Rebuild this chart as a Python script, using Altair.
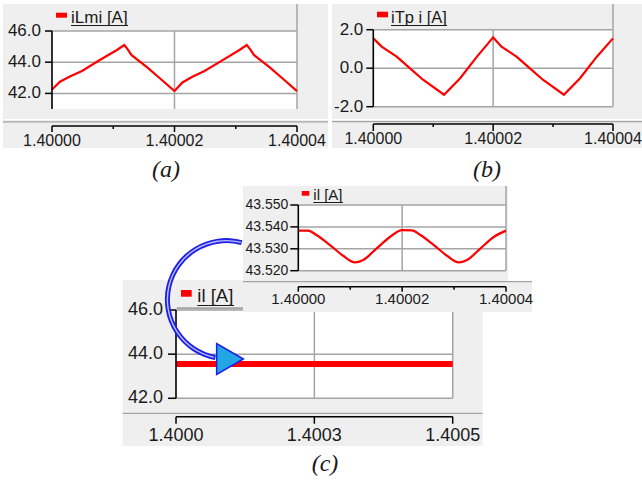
import altair as alt
import pandas as pd

# ---------------- data (time offsets in microseconds after 1.4 s) ----------------
T_A = [0, 1.3, 3, 4.9, 7.8, 10.6, 11.8, 12.3, 13, 15.5, 17.6, 20, 21.3, 23, 24.9, 27.8, 30.6, 31.8, 32.3, 33, 35.5, 37.6, 40]
V_A = [42.25, 42.75, 43.1, 43.44, 44.14, 44.78, 45.1, 44.85, 44.45, 43.68, 42.97, 42.15, 42.7, 43.08, 43.44, 44.12, 44.78, 45.1, 44.85, 44.45, 43.68, 42.97, 42.15]

T_B = [0, 1.4, 3.9, 5.8, 8.3, 11.8, 14.5, 17.3, 20, 21.4, 23.9, 25.8, 28.3, 31.8, 34.5, 37.3, 40]
V_B = [1.55, 1.12, 0.6, 0.08, -0.6, -1.38, -0.52, 0.6, 1.6, 1.12, 0.6, 0.08, -0.6, -1.38, -0.52, 0.6, 1.55]

T_INSET = [0, 1.9, 3.5, 6.1, 8.7, 10.9, 12.5, 15.1, 17.7, 20, 21.9, 23.5, 26.1, 28.7, 30.9, 32.5, 35.1, 37.7, 40]
V_INSET = [43.5383, 43.5383, 43.5363, 43.5317, 43.5267, 43.5238, 43.5249, 43.5302, 43.5355, 43.5385,
           43.5384, 43.5363, 43.5317, 43.5267, 43.5238, 43.5249, 43.5302, 43.5355, 43.5383]

T_C = [0, 100, 200, 300, 400, 500]
V_C = [43.55, 43.55, 43.55, 43.55, 43.55, 43.55]

T0 = 1.4
X_TICKS_AB = [1.4, 1.40002, 1.40004]
X_LABELS_AB = ["1.40000", "1.40002", "1.40004"]
X_MINOR_AB = [1.40001, 1.40003]
Y_TICKS_A = [42.0, 44.0, 46.0]
Y_LABELS_A = ["42.0", "44.0", "46.0"]
Y_TICKS_B = [-2.0, 0.0, 2.0]
Y_LABELS_B = ["-2.0", "0.0", "2.0"]
Y_TICKS_INSET = [43.52, 43.53, 43.54, 43.55]
Y_LABELS_INSET = ["43.520", "43.530", "43.540", "43.550"]
X_TICKS_C = [1.4, 1.40025, 1.4005]
X_LABELS_C = ["1.4000", "1.4003", "1.4005"]
Y_TICKS_C = [42.0, 44.0, 46.0]
Y_LABELS_C = ["42.0", "44.0", "46.0"]

LEGEND_A = "iLmi [A]"
LEGEND_B = "iTp i [A]"
LEGEND_INSET = "il [A]"
LEGEND_C = "il [A]"
CAPTIONS = ["(a)", "(b)", "(c)"]

# ---------------- style ----------------
W, H = 642, 483
ONE = pd.DataFrame({"k": [0]})
SANS = "Liberation Sans"
SERIF = "Liberation Serif"
BG = "#efefef"
GRID = "#a4a4a4"
RED = "#ff0000"
INK = "#1a1a1a"


def box(x1, x2, y1, y2, color):
    return alt.Chart(ONE).mark_rect(color=color).encode(
        x=alt.value(x1), x2=alt.value(x2), y=alt.value(y1), y2=alt.value(y2))


def hline(x1, x2, y, color, w):
    return alt.Chart(ONE).mark_rule(color=color, strokeWidth=w).encode(
        x=alt.value(x1), x2=alt.value(x2), y=alt.value(y))


def vline(x, y1, y2, color, w):
    return alt.Chart(ONE).mark_rule(color=color, strokeWidth=w).encode(
        x=alt.value(x), y=alt.value(y1), y2=alt.value(y2))


def label(x, y, s, size, font=SANS, align="left", style="normal", baseline="alphabetic", color=INK):
    return alt.Chart(ONE).mark_text(align=align, baseline=baseline, font=font, fontSize=size,
                                    fontStyle=style, color=color).encode(
        x=alt.value(x), y=alt.value(y), text=alt.value(s))


def legend(sq, tx, ty, text, size, uline_y, uline_x2):
    return [box(sq[0], sq[1], sq[2], sq[3], RED),
            label(tx, ty, text, size),
            hline(tx, uline_x2, uline_y, INK, 1)]


def panel(T, V, xdom, xrng, ydom, yrng, xticks, xlabels, yticks, ylabels,
          ax_x, ax_y, xsize, ysize, xtick, ytick, xpad, ypad,
          minor, minor_len, line_w, interp, before, after):
    xs = alt.Scale(domain=xdom, range=xrng, zero=False, nice=False)
    ys = alt.Scale(domain=ydom, range=yrng, zero=False, nice=False)
    X = lambda f: alt.X(f, scale=xs, axis=None)
    Y = lambda f: alt.Y(f, scale=ys, axis=None)
    df = pd.DataFrame({"t": [T0 + t * 1e-6 for t in T], "v": V})
    area = pd.DataFrame({"x0": [xdom[0]], "x1": [xdom[1]], "y0": [ydom[0]], "y1": [ydom[1]]})
    white = alt.Chart(area).mark_rect(color="white").encode(
        x=X("x0:Q"), x2="x1", y=Y("y0:Q"), y2="y1")
    vg = pd.DataFrame({"gx": xticks[1:], "y0": ydom[0], "y1": ydom[1]})
    vgrid = alt.Chart(vg).mark_rule(color=GRID, strokeWidth=1.5).encode(
        x=X("gx:Q"), y=Y("y0:Q"), y2="y1")
    hg = pd.DataFrame({"gy": yticks, "x0": xdom[0], "x1": xdom[1]})
    hgrid = alt.Chart(hg).mark_rule(color=GRID, strokeWidth=1.5).encode(
        y=Y("gy:Q"), x=X("x0:Q"), x2="x1")
    line = alt.Chart(df).mark_line(color=RED, strokeWidth=line_w, interpolate=interp).encode(
        x=X("t:Q"), y=Y("v:Q"))

    # x axis (domain line, ticks, labels) drawn through the panel's scales
    xa = pd.DataFrame({"tv": xticks, "lab": xlabels})
    x_dom = alt.Chart(area).mark_rule(color="black", strokeWidth=1.6).encode(
        x=X("x0:Q"), x2="x1", y=alt.value(ax_x))
    x_tk = alt.Chart(xa).mark_rule(color="black", strokeWidth=1.5).encode(
        x=X("tv:Q"), y=alt.value(ax_x), y2=alt.value(ax_x + xtick))
    x_lb = alt.Chart(xa).mark_text(align="center", baseline="top", font=SANS, fontSize=xsize,
                                   color=INK).encode(
        x=X("tv:Q"), y=alt.value(ax_x + xtick + xpad), text="lab:N")
    # y axis
    ya = pd.DataFrame({"tv": yticks, "lab": ylabels})
    y_dom = alt.Chart(area).mark_rule(color="black", strokeWidth=1.6).encode(
        y=Y("y0:Q"), y2="y1", x=alt.value(ax_y))
    y_tk = alt.Chart(ya).mark_rule(color="black", strokeWidth=1.5).encode(
        y=Y("tv:Q"), x=alt.value(ax_y - ytick), x2=alt.value(ax_y))
    y_lb = alt.Chart(ya).mark_text(align="right", baseline="middle", font=SANS, fontSize=ysize,
                                   color=INK).encode(
        y=Y("tv:Q"), x=alt.value(ax_y - ytick - ypad), text="lab:N")

    layers = list(before) + [white, vgrid, hgrid, line, x_dom, x_tk, x_lb, y_dom, y_tk, y_lb]
    if minor:
        mt = pd.DataFrame({"mx": minor})
        layers.append(alt.Chart(mt).mark_rule(color="black", strokeWidth=1.5).encode(
            x=X("mx:Q"), y=alt.value(ax_x), y2=alt.value(ax_x + minor_len)))
    layers += list(after)
    return alt.layer(*layers)


# ---------------- panel (a) ----------------
pA = panel(T_A, V_A, [1.4, 1.40004], [52, 297], [41, 46], [109, 31],
           X_TICKS_AB, X_LABELS_AB, Y_TICKS_A, Y_LABELS_A,
           ax_x=126, ax_y=52, xsize=16, ysize=17, xtick=6, ytick=7, xpad=1, ypad=4,
           minor=X_MINOR_AB, minor_len=3, line_w=2.2, interp="linear",
           before=[box(3, 328, 4, 148, BG), vline(297, 4, 31, GRID, 1.5),
                   hline(3, 328, 119.5, "white", 1), hline(3, 328, 121.8, GRID, 1.2)],
           after=legend((56, 67, 12.7, 17.7), 71, 23, LEGEND_A, 17, 25.5, 128)
           + [label(166, 170, CAPTIONS[0], 24, font=SERIF, align="center", style="italic", baseline="middle")])

# ---------------- panel (b) ----------------
pB = panel(T_B, V_B, [1.4, 1.40004], [373.3, 613], [-2, 2], [106.7, 29.7],
           X_TICKS_AB, X_LABELS_AB, Y_TICKS_B, Y_LABELS_B,
           ax_x=124, ax_y=373.3, xsize=16, ysize=17, xtick=7, ytick=7, xpad=0, ypad=3,
           minor=X_MINOR_AB, minor_len=3, line_w=2.2, interp="linear",
           before=[box(332, 642, 4, 148, BG), vline(613, 4, 30, GRID, 1.5),
                   hline(332, 642, 119.5, "white", 1), hline(332, 642, 121.7, GRID, 1.2)],
           after=legend((377, 388, 11.7, 17.3), 391, 23, LEGEND_B, 16.5, 25.5, 447)
           + [label(487, 170, CAPTIONS[1], 24, font=SERIF, align="center", style="italic", baseline="middle")])

# ---------------- panel (c) main ----------------
pC = panel(T_C, V_C, [1.4, 1.4005], [176, 452.7], [42, 46], [398.3, 310],
           X_TICKS_C, X_LABELS_C, Y_TICKS_C, Y_LABELS_C,
           ax_x=416.7, ax_y=176, xsize=18, ysize=18, xtick=7, ytick=8, xpad=3, ypad=5,
           minor=None, minor_len=0, line_w=6, interp="linear",
           before=[box(122.7, 482.7, 280, 446, BG), hline(122.7, 482.7, 413.3, GRID, 1.2)],
           after=legend((181, 191.7, 290, 296.7), 197.3, 302, LEGEND_C, 18.5, 305.5, 234)
           + [hline(176.7, 243, 308.3, GRID, 2),
              label(325, 464, CAPTIONS[2], 24, font=SERIF, align="center", style="italic", baseline="middle")])

# ---------------- panel (c) inset ----------------
pI = panel(T_INSET, V_INSET, [1.4, 1.40004], [298.3, 506], [43.52, 43.55], [270.7, 205],
           X_TICKS_AB, X_LABELS_AB, Y_TICKS_INSET, Y_LABELS_INSET,
           ax_x=286.7, ax_y=298.3, xsize=15, ysize=14, xtick=5, ytick=8, xpad=0, ypad=2,
           minor=X_MINOR_AB, minor_len=3, line_w=2.2, interp="monotone",
           before=[box(243, 508, 186, 282, BG), box(243, 532, 281, 312, BG),
                   vline(506, 186, 205, GRID, 1.5), hline(243, 532, 281.7, GRID, 1.2)],
           after=legend((301.7, 309.3, 191, 195.7), 313.3, 200, LEGEND_INSET, 15, 202.5, 343))

# ---------------- blue arrow ----------------
arc_outer = alt.Chart(ONE).mark_arc(color="#1f1fe6", radius=61.5, radius2=56.5,
                                    theta=3.33, theta2=6.545).encode(
    x=alt.value(226.4), y=alt.value(299.6))
arc_inner = alt.Chart(ONE).mark_arc(color="#b8c2ff", radius=59.7, radius2=58.3,
                                    theta=3.36, theta2=6.53).encode(
    x=alt.value(226.4), y=alt.value(299.6))
head = alt.Chart(ONE).mark_point(shape="triangle-right", size=950, filled=True, fill="#22a6e6",
                                 stroke="#1f1fe6", strokeWidth=1.5, opacity=1).encode(
    x=alt.value(230), y=alt.value(359))
arrow = alt.layer(arc_outer, arc_inner, head)

chart = alt.layer(pA, pB, pC, pI, arrow).resolve_scale(
    x="independent", y="independent"
).properties(
    width=W, height=H, autosize=alt.AutoSizeParams(type="none"), padding=0, background="white"
).configure_view(stroke=None)

chart.save("out.html", embed_options={"renderer": "svg", "actions": False})
